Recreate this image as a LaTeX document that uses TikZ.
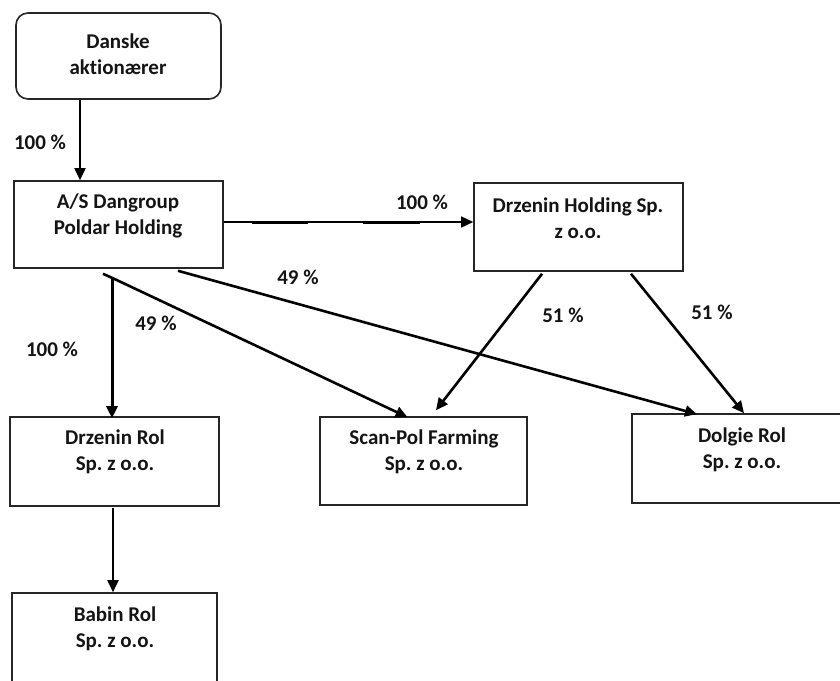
\documentclass[tikz,border=0pt]{standalone}
\usepackage{fontspec}
\setmainfont[Ligatures=NoCommon]{Carlito}
\usetikzlibrary{arrows.meta,calc}
\frenchspacing
\begin{document}
\begin{tikzpicture}[x=1pt,y=-1pt,
  box/.style={draw=black!85,line width=1.6pt,inner sep=0pt,fill=none},
  txt/.style={align=center,inner sep=0pt,text=black!92,font=\fontsize{21pt}{26pt}\selectfont\bfseries},
  lbl/.style={inner sep=0pt,text=black!92,font=\fontsize{21pt}{26pt}\selectfont\bfseries},
  arr/.style={line width=2.6pt,-{Triangle[length=12pt,width=11pt]}},
  thinarr/.style={line width=1.8pt,-{Triangle[length=12pt,width=11pt]}}]
\useasboundingbox (0,0) rectangle (840,680);
\clip (0,0) rectangle (840,680);
% boxes
\node[box,rounded corners=12pt,minimum width=205pt,minimum height=86pt] (dk) at (118.5,56) {};
\node[box,minimum width=209pt,minimum height=87pt] (as) at (118.5,224.5) {};
\node[box,minimum width=209pt,minimum height=88pt] (dh) at (578.5,227) {};
\node[box,minimum width=209pt,minimum height=89pt] (dr) at (114.5,461.5) {};
\node[box,minimum width=207pt,minimum height=88pt] (sp) at (423.5,461) {};
\node[box,minimum width=220pt,minimum height=89pt] (dg) at (742,458.5) {};
\node[box,minimum width=205pt,minimum height=89pt] (br) at (114.5,637.5) {};
% texts
\node[txt] (dkt) at (118,54) {Danske\\aktionærer};
\node[txt] (ast) at (118,216) {A/S Dangroup\\Poldar Holding};
\node[txt] (dht) at (578,218) {Drzenin Holding Sp.\\z o.o.};
\node[txt] (drt) at (115,452) {Drzenin Rol\\Sp. z o.o.};
\node[txt] (spt) at (424,452) {Scan-Pol Farming\\Sp. z o.o.};
\node[txt] (dgt) at (742,450) {Dolgie Rol\\Sp. z o.o.};
\node[txt] (brt) at (115,629) {Babin Rol\\Sp. z o.o.};
% labels
\node[lbl] (l1) at (40,142) {100 \%};
\node[lbl] (l2) at (422,202) {100 \%};
\node[lbl] (l3) at (298,277) {49 \%};
\node[lbl] (l4) at (156,323) {49 \%};
\node[lbl] (l5) at (52,349) {100 \%};
\node[lbl] (l6) at (563,315) {51 \%};
\node[lbl] (l7) at (712,312) {51 \%};
% connectors
\draw[thinarr] ($(dk.south)+(-38.5,0)$) -- ($(as.north)+(-38.5,0)$);
\draw[thinarr,line width=1.5pt] ($(as.east)+(0,-2.5)$) -- ($(dh.west)+(0,-5)$);
\draw[line width=2.8pt] (252,223) -- (308,223);
\draw[line width=2.8pt] (363,223) -- (420,223);
\draw[arr,line width=3pt] ($(as.south)+(-6.5,9)$) -- ($(dr.north)+(-2.5,2)$);
\draw[line width=2.6pt] ($(as.south)+(-15.5,5)$) -- ($(as.south)+(-6.5,9)$);
\draw[arr] ($(as.south)+(-6.5,9)$) -- ($(sp.north)+(-16,1)$);
\draw[arr] ($(as.south)+(59.5,2)$) -- ($(dg.north)+(-45,1)$);
\draw[arr] ($(dh.south)+(-36.5,2)$) -- ($(sp.north)+(12.5,-6)$);
\draw[arr] ($(dh.south)+(52.5,2)$) -- ($(dg.north)+(2,0)$);
\draw[thinarr] ($(dr.south)+(-1.5,1)$) -- ($(br.north)+(-1.5,0)$);
\end{tikzpicture}
\end{document}
